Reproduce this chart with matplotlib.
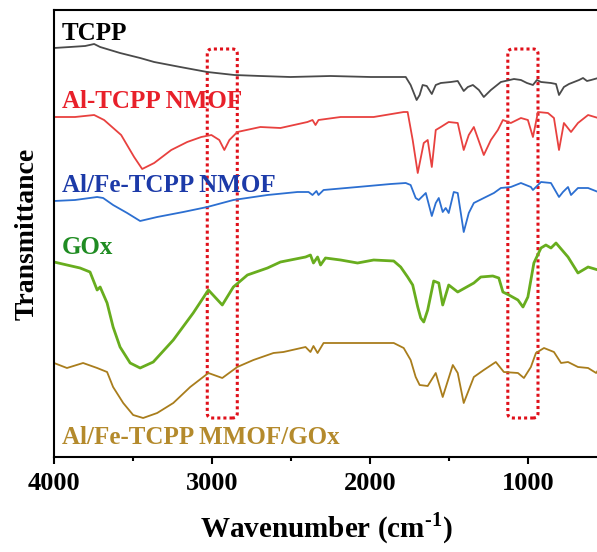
import matplotlib
matplotlib.use("Agg")
import matplotlib.pyplot as plt
from matplotlib.patches import FancyBboxPatch
from matplotlib.ticker import MultipleLocator

plt.rcParams['font.family'] = ['Liberation Serif', 'DejaVu Serif']
plt.rcParams['font.weight'] = 'bold'
plt.rcParams['mathtext.fontset'] = 'custom'
plt.rcParams['mathtext.rm'] = 'Liberation Serif:bold'
plt.rcParams['mathtext.bf'] = 'Liberation Serif:bold'

# ---- data (wavenumber cm-1, transmittance arbitrary units, offset stacked) ----
tcpp_wn = [4000, 3899, 3803, 3746, 3708, 3582, 3455, 3366, 3201, 3030, 2859, 2694, 2504, 2250,
           1996, 1774, 1743, 1705, 1686, 1667, 1641, 1609, 1584, 1552, 1489, 1445, 1407, 1381,
           1349, 1311, 1280, 1235, 1172, 1089, 1045, 1007, 969, 944, 918, 855, 823, 804, 773,
           741, 709, 677, 652, 627, 601, 556]
tcpp_t = [412, 413, 414, 416, 413, 407, 402, 398, 393, 388, 385, 384, 383, 384,
          383, 383, 375, 360, 365, 375, 374, 366, 375, 377, 378, 379, 369, 373,
          375, 370, 363, 370, 378, 381, 380, 377, 375, 380, 378, 377, 376, 365, 373,
          376, 378, 380, 382, 379, 380, 382]

al_wn = [4000, 3867, 3746, 3683, 3575, 3493, 3442, 3366, 3258, 3157, 3068, 3004, 2954, 2922,
         2890, 2840, 2694, 2567, 2396, 2364, 2345, 2326, 2186, 1977, 1787, 1762, 1730, 1698,
         1660, 1635, 1609, 1584, 1552, 1502, 1445, 1407, 1375, 1343, 1280, 1235, 1191, 1159,
         1109, 1045, 1001, 969, 937, 874, 836, 804, 773, 728, 684, 620, 556]
al_t = [343, 343, 345, 340, 325, 303, 291, 297, 310, 318, 323, 325, 320, 310,
        320, 328, 333, 332, 338, 340, 335, 340, 343, 343, 348, 348, 320, 287,
        317, 320, 293, 330, 333, 338, 337, 310, 325, 333, 305, 320, 330, 340,
        337, 342, 340, 323, 348, 347, 342, 310, 337, 328, 337, 345, 342]

alfe_wn = [4000, 3867, 3727, 3689, 3626, 3537, 3455, 3347, 3182, 3030, 2865, 2649, 2459, 2389,
           2364, 2339, 2326, 2294, 2079, 1869, 1774, 1743, 1711, 1692, 1647, 1609, 1584, 1565,
           1540, 1521, 1502, 1470, 1445, 1407, 1375, 1343, 1280, 1216, 1172, 1109, 1045, 982,
           969, 918, 855, 804, 779, 747, 728, 684, 620, 556]
alfe_t = [259, 260, 263, 262, 255, 247, 239, 243, 248, 253, 260, 265, 268, 268,
          265, 269, 265, 270, 273, 276, 277, 275, 262, 260, 267, 244, 257, 262,
          248, 252, 247, 268, 267, 228, 247, 257, 262, 267, 272, 273, 277, 273,
          270, 278, 277, 263, 268, 273, 265, 272, 272, 268]

gox_wn = [4000, 3918, 3835, 3772, 3727, 3708, 3664, 3626, 3582, 3518, 3455, 3372, 3245, 3119,
          3023, 2935, 2865, 2776, 2649, 2567, 2408, 2377, 2358, 2332, 2313, 2282, 2186, 2079,
          1977, 1850, 1806, 1762, 1730, 1698, 1679, 1660, 1635, 1597, 1565, 1540, 1502, 1445,
          1343, 1299, 1223, 1185, 1159, 1121, 1064, 1032, 1001, 963, 918, 887, 855, 823, 747,
          684, 620, 556]
gox_t = [198, 195, 192, 188, 170, 173, 157, 133, 113, 97, 92, 98, 120, 147,
         170, 155, 173, 185, 192, 198, 203, 205, 197, 203, 195, 202, 200, 197,
         200, 199, 193, 183, 175, 153, 142, 138, 150, 179, 177, 155, 175, 168,
         177, 183, 184, 182, 168, 165, 160, 153, 163, 197, 212, 215, 212, 217, 203,
         187, 193, 190]

mmof_wn = [4000, 3918, 3816, 3727, 3664, 3626, 3562, 3499, 3436, 3347, 3245, 3138, 3023, 2935,
           2840, 2738, 2611, 2548, 2408, 2377, 2358, 2332, 2294, 2186, 1977, 1850, 1787, 1743,
           1711, 1686, 1635, 1584, 1540, 1476, 1445, 1407, 1343, 1280, 1204, 1153, 1064, 1026,
           982, 950, 899, 836, 791, 747, 684, 620, 569, 556]
mmof_t = [97, 92, 97, 92, 88, 73, 57, 45, 42, 47, 57, 73, 87, 82,
          93, 100, 107, 108, 113, 108, 114, 107, 117, 117, 117, 117, 112, 100,
          83, 75, 74, 87, 63, 95, 87, 57, 83, 90, 98, 88, 87, 82,
          93, 107, 112, 108, 97, 98, 93, 92, 87, 90]

series = [
    ("TCPP", tcpp_wn, tcpp_t, "#4a4a4a", "#000000", 1.3, 427),
    ("Al-TCPP NMOF", al_wn, al_t, "#e8413f", "#e8202a", 1.3, 359),
    ("Al/Fe-TCPP NMOF", alfe_wn, alfe_t, "#2c6fd1", "#1c3aa8", 1.3, 275),
    ("GOx", gox_wn, gox_t, "#68ad1e", "#1f8c22", 2.0, 212),
    ("Al/Fe-TCPP MMOF/GOx", mmof_wn, mmof_t, "#a97d1c", "#b48a2c", 1.3, 22),
]

boxes = [(2840, 3030), (937, 1128)]
box_t = (42, 411)

fig = plt.figure(figsize=(5.97, 5.52), dpi=100)
ax = fig.add_axes([54 / 597, 95 / 552, 1 - 54 / 597 + 0.002, (457 - 10) / 552])

for name, wn, t, lc, tc, lw, ty in series:
    ax.plot(wn, t, color=lc, lw=lw, solid_joinstyle='round')
    ax.text(3950, ty, name, color=tc, fontsize=18, fontweight='bold', va='center', ha='left')

for lo, hi in boxes:
    p = FancyBboxPatch((lo, box_t[0]), hi - lo, box_t[1] - box_t[0],
                       boxstyle="round,pad=0,rounding_size=30", mutation_aspect=0.158,
                       fill=False, edgecolor='#e0101a', lw=2.2, linestyle=(0, (1, 1)))
    ax.add_patch(p)

ax.set_xlim(4000, 556)
ax.set_ylim(3, 450)
ax.set_yticks([])
ax.xaxis.set_major_locator(MultipleLocator(1000))
ax.xaxis.set_minor_locator(MultipleLocator(500))
ax.tick_params(axis='x', which='major', direction='out', length=5, width=1.5, labelsize=19, pad=6)
ax.tick_params(axis='x', which='minor', direction='out', length=3, width=1.5)
for lab in ax.get_xticklabels():
    lab.set_fontweight('bold')
for s in ['left', 'top', 'bottom']:
    ax.spines[s].set_linewidth(1.5)
ax.spines['right'].set_visible(False)

ax.set_xlabel("Wavenumber (cm$^{\\text{-1}}$)", fontsize=21, fontweight='bold', labelpad=11)
ax.set_ylabel("Transmittance", fontsize=20, fontweight='bold', labelpad=10)

fig.savefig("out.png", dpi=100)
